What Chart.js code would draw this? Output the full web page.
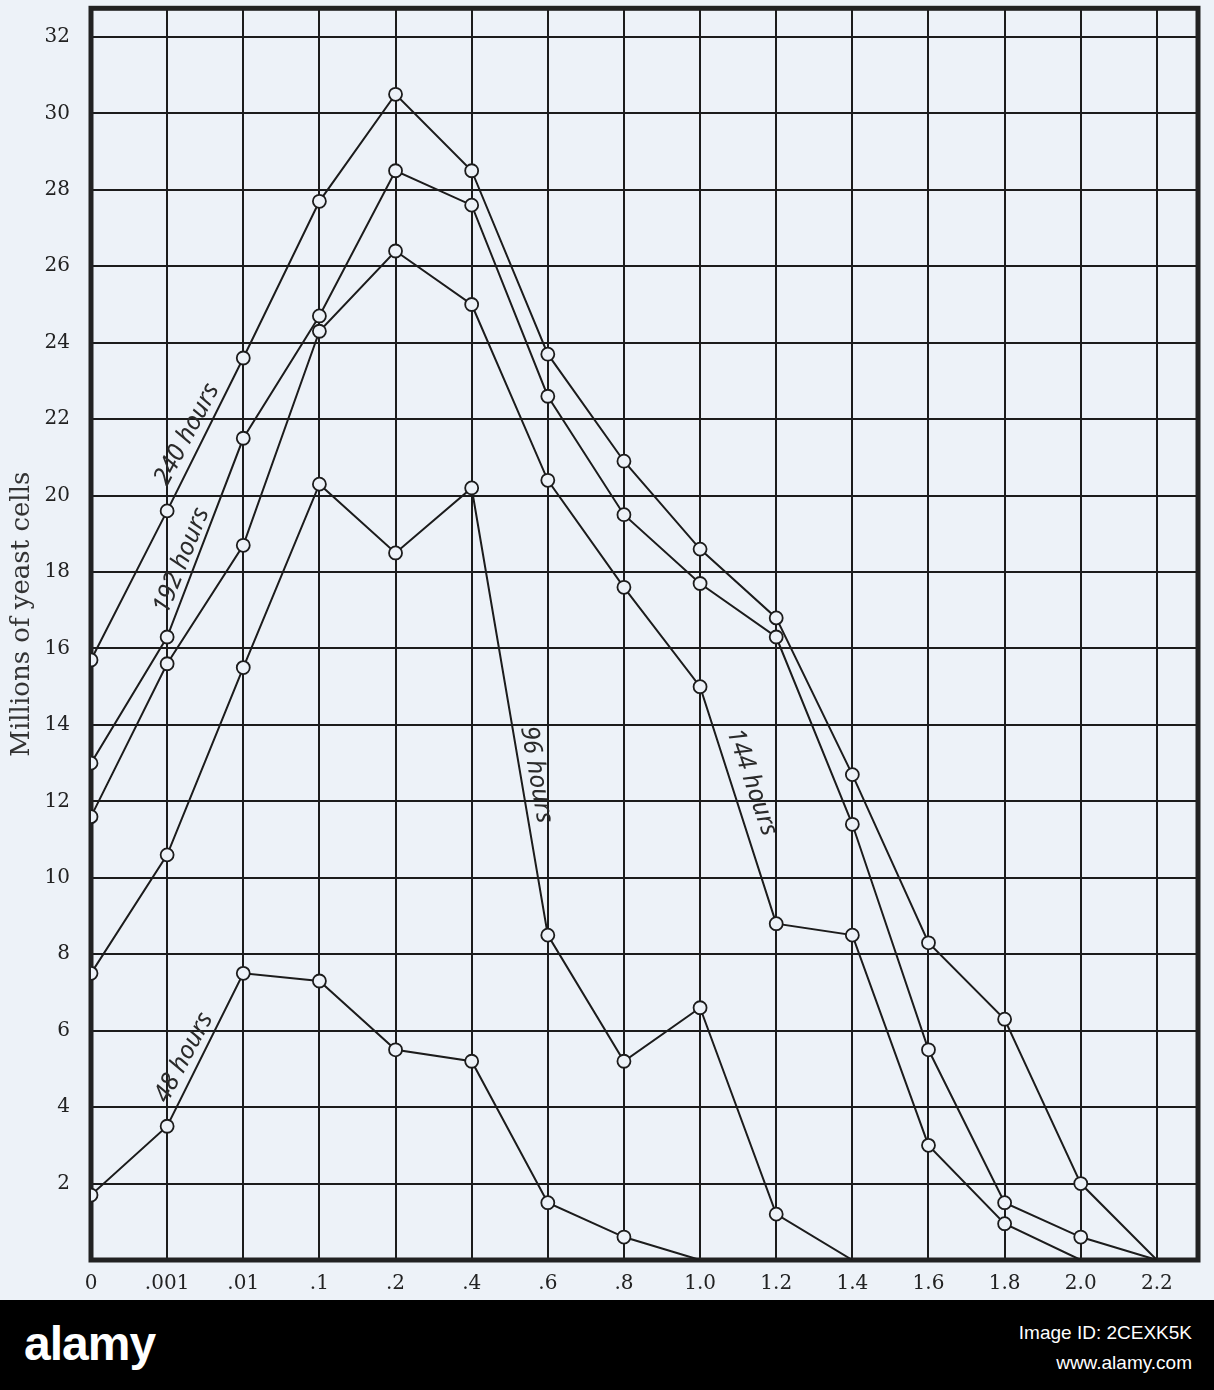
<!DOCTYPE html>
<html>
<head>
<meta charset="utf-8">
<title>Millions of yeast cells</title>
<script src="https://cdn.jsdelivr.net/npm/chart.js@4/dist/chart.umd.min.js"></script>
<style>
  html, body { margin: 0; padding: 0; background: #edf2f8; }
  #wrap { width: 1214px; height: 1300px; }
  #banner {
    position: relative; width: 1214px; height: 90px; background: #000; color: #fff;
    font-family: "Liberation Sans", Arial, sans-serif;
  }
  #banner .logo { position: absolute; left: 24px; top: 16px; font-size: 48px; font-weight: bold; letter-spacing: -1px; }
  #banner .info { position: absolute; right: 22px; top: 18px; font-size: 19px; line-height: 30px; text-align: right; }
</style>
</head>
<body>
<div id="wrap"><canvas id="yeastChart" width="1214" height="1300"></canvas></div>
<div id="banner">
  <div class="logo">alamy</div>
  <div class="info">Image ID: 2CEXK5K<br>www.alamy.com</div>
</div>
<script>
// Concentrations along the bottom
const doseLabels = ['0', '.001', '.01', '.1', '.2', '.4', '.6', '.8', '1.0', '1.2', '1.4', '1.6', '1.8', '2.0', '2.2'];

// Millions of yeast cells, one list per incubation time
const hours240 = [15.7, 19.6, 23.6, 27.7, 30.5, 28.5, 23.7, 20.9, 18.6, 16.8, 12.7, 8.3, 6.3, 2.0, 0];
const hours192 = [13.0, 16.3, 21.5, 24.7, 28.5, 27.6, 22.6, 19.5, 17.7, 16.3, 11.4, 5.5, 1.5, 0.6, 0];
const hours144 = [11.6, 15.6, 18.7, 24.3, 26.4, 25.0, 20.4, 17.6, 15.0, 8.8, 8.5, 3.0, 0.95, 0];
const hours96 = [7.5, 10.6, 15.5, 20.3, 18.5, 20.2, 8.5, 5.2, 6.6, 1.2, 0];
const hours48 = [1.7, 3.5, 7.5, 7.3, 5.5, 5.2, 1.5, 0.6, 0];

const seriesNames = ['240 hours', '192 hours', '144 hours', '96 hours', '48 hours'];
const seriesValues = [hours240, hours192, hours144, hours96, hours48];

const yTitle = 'Millions of yeast cells';

const paper = '#edf2f8';
const ink = '#1c1c1c';

// Handwritten curve names: placed in data units, turned along their line
const curveNotes = [
  { text: seriesNames[0], at: 1.26, val: 21.6, angle: -62 },
  { text: seriesNames[1], at: 1.19, val: 18.3, angle: -68 },
  { text: seriesNames[2], at: 8.68, val: 12.5, angle: 71 },
  { text: seriesNames[3], at: 5.85, val: 12.7, angle: 80 },
  { text: seriesNames[4], at: 1.22, val: 5.3, angle: -62 }
];

const frameAndNotes = {
  id: 'frameAndNotes',
  beforeDatasetsDraw(chart) {
    const { ctx, chartArea: a } = chart;
    ctx.save();
    ctx.strokeStyle = '#222';
    ctx.lineWidth = 5;
    ctx.strokeRect(a.left, a.top, a.right - a.left, a.bottom - a.top);
    ctx.restore();
  },
  afterDatasetsDraw(chart) {
    const { ctx, chartArea: a, scales: { x, y } } = chart;
    ctx.save();
    ctx.fillStyle = '#2a2a2a';
    ctx.font = 'italic 25px "Noto Sans", sans-serif';
    ctx.textAlign = 'center';
    ctx.textBaseline = 'middle';
    curveNotes.forEach(n => {
      ctx.save();
      ctx.translate(x.getPixelForValue(n.at), y.getPixelForValue(n.val));
      ctx.rotate(n.angle * Math.PI / 180);
      ctx.fillText(n.text, 0, 0);
      ctx.restore();
    });

    // axis title, sitting a little above the middle as in the print
    ctx.fillStyle = '#333';
    ctx.font = '26px "DejaVu Serif", serif';
    ctx.translate(22, (a.top + a.bottom) / 2 - 20);
    ctx.rotate(-Math.PI / 2);
    ctx.fillText(yTitle, 0, 0);
    ctx.restore();
  }
};

const datasets = seriesValues.map((values, k) => ({
  label: seriesNames[k],
  data: values.map((v, i) => ({ x: i, y: v })),
  borderColor: ink,
  borderWidth: 2,
  tension: 0,
  pointRadius: c => (c.raw && c.raw.y === 0 ? 0 : 6.5),
  pointBorderWidth: 1.8,
  pointBorderColor: ink,
  pointBackgroundColor: paper
}));

const serifFont = { family: '"DejaVu Serif", serif', size: 20 };

new Chart(document.getElementById('yeastChart').getContext('2d'), {
  type: 'line',
  data: { datasets },
  options: {
    responsive: false,
    animation: false,
    layout: { padding: { top: 0, right: 16, left: 0, bottom: 0 } },
    plugins: {
      legend: { display: false },
      tooltip: { enabled: false }
    },
    scales: {
      x: {
        type: 'linear',
        min: 0,
        max: 14.54,
        border: { display: false },
        grid: { color: ink, lineWidth: 2, drawTicks: false },
        ticks: {
          stepSize: 1,
          includeBounds: false,
          autoSkip: false,
          maxRotation: 0,
          padding: 12,
          color: '#222',
          font: serifFont,
          callback: v => doseLabels[v] ?? ''
        },
        afterFit: s => { s.height = 40; s.paddingLeft = 0; s.paddingRight = 0; }
      },
      y: {
        min: 0,
        max: 32.75,
        border: { display: false },
        grid: { color: ink, lineWidth: 2, drawTicks: false },
        ticks: {
          stepSize: 2,
          includeBounds: false,
          padding: 21,
          color: '#222',
          font: serifFont,
          callback: v => (v === 0 ? '' : v)
        },
        afterFit: s => { s.width = 91; s.paddingTop = 0; s.paddingBottom = 0; }
      }
    }
  },
  plugins: [frameAndNotes]
});
</script>
</body>
</html>
